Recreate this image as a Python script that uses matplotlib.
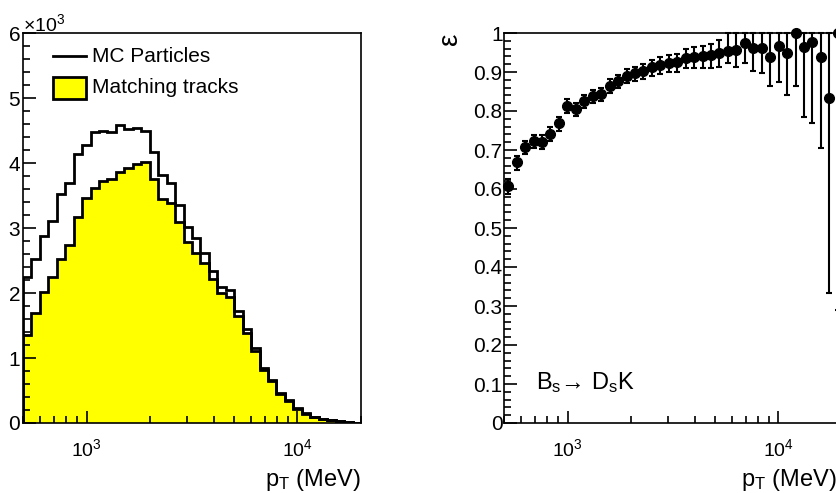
import numpy as np
import matplotlib
matplotlib.use("Agg")
import matplotlib.pyplot as plt
from matplotlib.ticker import LogLocator, NullFormatter, MultipleLocator, FixedFormatter, FixedLocator

plt.rcParams["font.family"] = ["Liberation Sans", "DejaVu Sans"]
plt.rcParams["mathtext.fontset"] = "custom"
plt.rcParams["mathtext.rm"] = "Liberation Sans"
plt.rcParams["mathtext.it"] = "Liberation Sans:italic"
plt.rcParams["mathtext.default"] = "regular"

# 40 log-spaced bins in pT (MeV)
pt_min, pt_max, n_bins = 500.0, 20000.0, 40

# counts per bin (axis shows units of 10^3)
mc_particles = [2250, 2530, 2870, 3110, 3520, 3700, 4140, 4270, 4480, 4490,
                4470, 4580, 4530, 4540, 4500, 4170, 3820, 3690, 3350, 3010,
                2840, 2620, 2340, 2090, 2050, 1720, 1440, 1160, 840, 660,
                465, 350, 230, 150, 100, 60, 45, 30, 12, 5]
matching_tracks = [1350, 1700, 2010, 2240, 2530, 2740, 3170, 3460, 3610, 3720,
                   3750, 3860, 3920, 3990, 4020, 3750, 3450, 3380, 3100, 2790,
                   2620, 2465, 2210, 2000, 1940, 1650, 1390, 1110, 820, 640,
                   445, 335, 215, 140, 90, 55, 40, 25, 8, 3]

efficiency = [0.608, 0.668, 0.707, 0.722, 0.721, 0.742, 0.768, 0.814, 0.804, 0.826,
              0.838, 0.843, 0.865, 0.876, 0.891, 0.897, 0.903, 0.912, 0.918, 0.922,
              0.925, 0.935, 0.938, 0.940, 0.943, 0.948, 0.955, 0.956, 0.974, 0.961,
              0.961, 0.938, 0.967, 0.950, 1.000, 0.965, 0.978, 0.939, 0.833, 1.000]
eff_err_lo = [0.020, 0.019, 0.018, 0.018, 0.018, 0.018, 0.018, 0.018, 0.018, 0.018,
              0.018, 0.018, 0.018, 0.018, 0.019, 0.019, 0.020, 0.021, 0.022, 0.023,
              0.025, 0.026, 0.028, 0.030, 0.032, 0.035, 0.033, 0.042, 0.050, 0.058,
              0.064, 0.074, 0.092, 0.109, 0.136, 0.181, 0.210, 0.233, 0.500, 0.710]
eff_err_hi = [0.018, 0.017, 0.017, 0.017, 0.017, 0.017, 0.017, 0.016, 0.016, 0.016,
              0.016, 0.016, 0.016, 0.016, 0.017, 0.017, 0.018, 0.019, 0.020, 0.021,
              0.022, 0.023, 0.025, 0.027, 0.030, 0.035, 0.045, 0.044, 0.026, 0.039,
              0.039, 0.062, 0.033, 0.050, 0.000, 0.035, 0.022, 0.061, 0.167, 0.000]
eff_ticks = ["0", "0.1", "0.2", "0.3", "0.4", "0.5", "0.6", "0.7", "0.8", "0.9", "1"]

edges = np.logspace(np.log10(pt_min), np.log10(pt_max), n_bins + 1)
centers = np.sqrt(edges[:-1] * edges[1:])

W, H = 837, 493
fig = plt.figure(figsize=(W / 100, H / 100), dpi=100)


def px_axes(x0, y0, x1, y1):
    return fig.add_axes([x0 / W, 1 - y1 / H, (x1 - x0) / W, (y1 - y0) / H])


def style_axes(ax):
    ax.set_xscale("log")
    ax.set_xlim(pt_min, pt_max)
    ax.xaxis.set_major_locator(LogLocator(base=10, numticks=10))
    ax.xaxis.set_minor_locator(LogLocator(base=10, subs=np.arange(2, 10), numticks=10))
    ax.xaxis.set_minor_formatter(NullFormatter())
    ax.tick_params(which="both", direction="in", top=False, right=False, width=1.2)
    ax.tick_params(which="major", length=9)
    ax.tick_params(which="minor", length=5)
    ax.tick_params(axis="x", pad=11, labelsize=14)
    ax.tick_params(axis="y", pad=2, labelsize=15)
    for s in ax.spines.values():
        s.set_linewidth(1.2)


# ---- left: pT spectra ----
ax = px_axes(23, 33, 361, 423)
style_axes(ax)
scaled_mc = np.array(mc_particles) / 1000.0
scaled_match = np.array(matching_tracks) / 1000.0
ax.stairs(scaled_match, edges, fill=True, color="#ffff00", zorder=1)
ax.stairs(scaled_mc, edges, color="black", lw=2.0, zorder=2)
ax.stairs(scaled_match, edges, color="black", lw=2.0, zorder=3)
ax.set_ylim(0, 6)
ax.yaxis.set_major_locator(MultipleLocator(1))
ax.yaxis.set_minor_locator(MultipleLocator(0.2))
ax.text(0.0, 0.995, r"$\times10^{3}$", transform=ax.transAxes, ha="left",
        va="bottom", fontsize=14)
ax.text(1.0, -0.112, r"p$_{T}$ (MeV)", transform=ax.transAxes, ha="right",
        va="top", fontsize=17)

# legend drawn by hand (ROOT style)
ax.plot([0.088, 0.185], [0.94, 0.94], transform=ax.transAxes, color="black", lw=2)
ax.add_patch(plt.Rectangle((0.09, 0.83), 0.095, 0.058, transform=ax.transAxes,
                           facecolor="#ffff00", edgecolor="black", lw=2))
ax.text(0.205, 0.94, "MC Particles", transform=ax.transAxes, va="center", fontsize=15)
ax.text(0.205, 0.859, "Matching tracks", transform=ax.transAxes, va="center", fontsize=15)

# ---- right: efficiency ----
bx = px_axes(504, 33, 842, 423)
style_axes(bx)
bx.set_ylim(0, 1)
bx.yaxis.set_major_locator(FixedLocator(np.linspace(0, 1, 11)))
bx.yaxis.set_major_formatter(FixedFormatter(eff_ticks))
bx.yaxis.set_minor_locator(MultipleLocator(0.02))
bx.tick_params(axis="y", pad=1)
bx.errorbar(centers, efficiency, yerr=[eff_err_lo, eff_err_hi], fmt="o",
            color="black", ms=7, elinewidth=1.5, capsize=2.5, capthick=1.5,
            clip_on=False, zorder=3)
bx.text(-0.16, 1.0, "\u03b5", transform=bx.transAxes, rotation=90,
        ha="center", va="top", fontsize=20)
bx.text(0.095, 0.087, "B$_{s}$\u2192 D$_{s}$K", transform=bx.transAxes,
        fontsize=17, va="baseline")
bx.text(0.985, -0.112, r"p$_{T}$ (MeV)", transform=bx.transAxes, ha="right",
        va="top", fontsize=17)

fig.savefig("out.png", dpi=100)
